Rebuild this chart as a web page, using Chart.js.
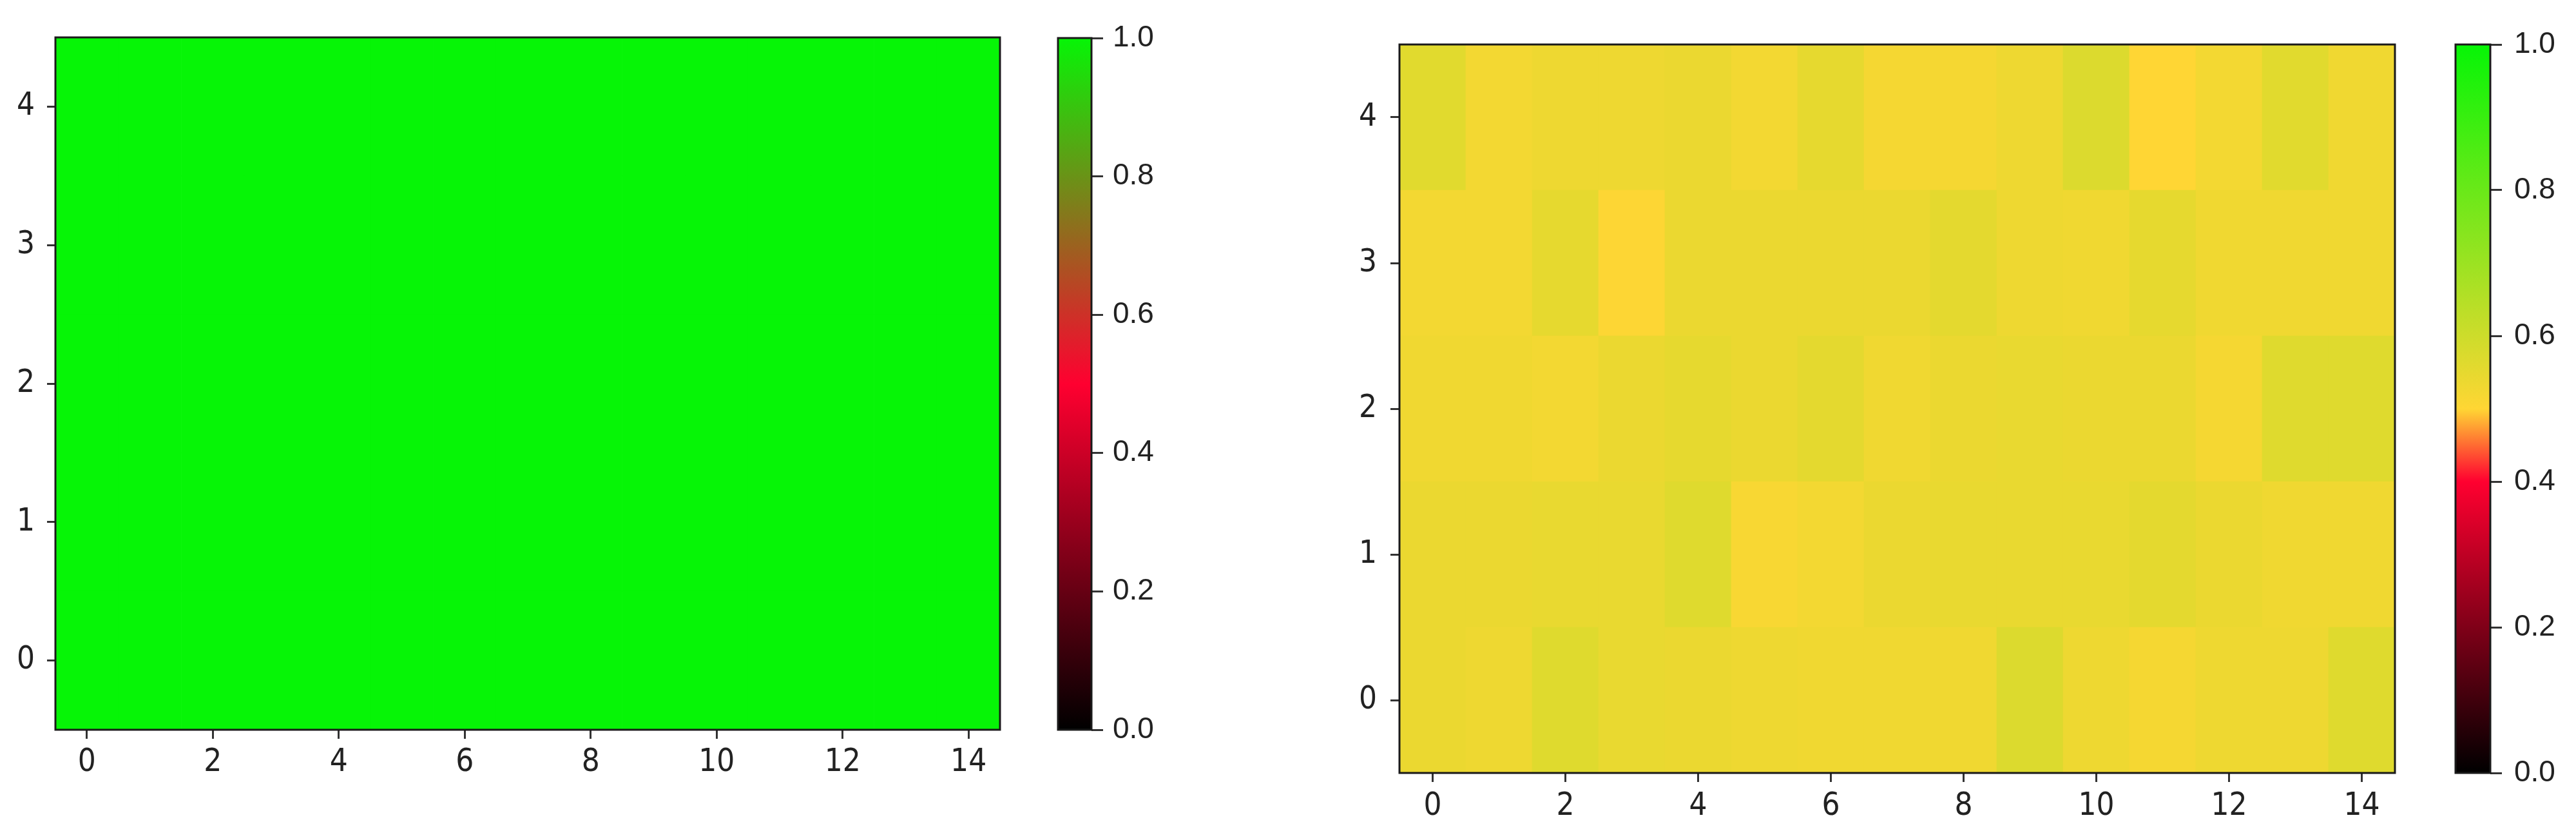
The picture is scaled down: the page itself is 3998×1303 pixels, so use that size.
<!DOCTYPE html>
<html>
<head>
<meta charset="utf-8">
<script src="https://cdn.jsdelivr.net/npm/chart.js@4"></script>
<style>
  body { margin: 0; background: #fff; }
  #page { position: relative; width: 3998px; height: 1303px; overflow: hidden; }
  .box { position: absolute; top: 0; height: 1303px; }
</style>
</head>
<body>
<div id="page">
  <div class="box" style="left:0;width:1600px"><canvas id="heatLeft"></canvas></div>
  <div class="box" style="left:1600px;width:300px"><canvas id="barLeft"></canvas></div>
  <div class="box" style="left:2000px;width:1790px"><canvas id="heatRight"></canvas></div>
  <div class="box" style="left:3790px;width:208px"><canvas id="barRight"></canvas></div>
</div>
<script>
// categories and ticks
const xLabels = ["0","1","2","3","4","5","6","7","8","9","10","11","12","13","14"];
const xTickIdx = [0, 2, 4, 6, 8, 10, 12, 14];
const yTicks = [0, 1, 2, 3, 4];
const cbTicks = [0, 0.2, 0.4, 0.6, 0.8, 1.0];

// left heatmap: every cell at 1.0
const leftRow0 = [1,1,1,1,1,1,1,1,1,1,1,1,1,1,1];
const leftRow1 = [1,1,1,1,1,1,1,1,1,1,1,1,1,1,1];
const leftRow2 = [1,1,1,1,1,1,1,1,1,1,1,1,1,1,1];
const leftRow3 = [1,1,1,1,1,1,1,1,1,1,1,1,1,1,1];
const leftRow4 = [1,1,1,1,1,1,1,1,1,1,1,1,1,1,1];

// right heatmap (row 0 = bottom)
const rightRow0 = [0.54, 0.535, 0.565, 0.545, 0.54, 0.535, 0.53, 0.53, 0.53, 0.57, 0.535, 0.52, 0.535, 0.535, 0.565];
const rightRow1 = [0.54, 0.54, 0.545, 0.545, 0.565, 0.515, 0.525, 0.54, 0.545, 0.545, 0.545, 0.555, 0.54, 0.53, 0.53];
const rightRow2 = [0.53, 0.53, 0.525, 0.54, 0.55, 0.54, 0.555, 0.53, 0.54, 0.545, 0.54, 0.54, 0.52, 0.565, 0.565];
const rightRow3 = [0.525, 0.525, 0.55, 0.505, 0.54, 0.54, 0.54, 0.54, 0.555, 0.535, 0.53, 0.55, 0.53, 0.53, 0.53];
const rightRow4 = [0.56, 0.525, 0.535, 0.535, 0.54, 0.525, 0.55, 0.52, 0.52, 0.535, 0.57, 0.50, 0.525, 0.56, 0.53];

// colormaps: [position, [r,g,b]]
const cmapLeft = [[0, [0,0,0]], [0.5, [255,0,48]], [1, [6,245,6]]];
const cmapRight = [[0, [0,0,0]], [0.4, [255,0,48]], [0.5, [255,214,52]], [1, [6,245,6]]];

function cmapColor(stops, v) {
  for (let i = 1; i < stops.length; i++) {
    if (v <= stops[i][0]) {
      const [p0, c0] = stops[i - 1];
      const [p1, c1] = stops[i];
      const t = (v - p0) / (p1 - p0);
      const c = c0.map((a, k) => Math.round(a + (c1[k] - a) * t));
      return `rgb(${c[0]},${c[1]},${c[2]})`;
    }
  }
  const c = stops[stops.length - 1][1];
  return `rgb(${c[0]},${c[1]},${c[2]})`;
}

const frame = {
  id: "frame",
  afterDraw(chart) {
    const { ctx, chartArea: a } = chart;
    ctx.save();
    ctx.strokeStyle = "#1a1a1a";
    ctx.lineWidth = 3;
    ctx.strokeRect(a.left, a.top, a.width, a.height);
    ctx.restore();
  }
};

const tickFont = { family: "'Liberation Sans Narrow', 'DejaVu Sans Condensed', 'DejaVu Sans'", size: 49 };
const cbFont = { family: "'Liberation Sans', 'DejaVu Sans'", size: 46 };

function makeHeatmap(id, rows, stops, g) {
  const datasets = rows.map((vals, r) => ({
    data: vals.map(() => [r - 0.5, r + 0.5]),
    backgroundColor: vals.map(v => cmapColor(stops, v)),
    borderWidth: 0,
    grouped: false,
    barPercentage: 1,
    categoryPercentage: 1
  }));
  new Chart(document.getElementById(id), {
    type: "bar",
    data: { labels: xLabels, datasets },
    plugins: [frame],
    options: {
      responsive: true,
      maintainAspectRatio: false,
      animation: false,
      layout: { padding: g.pad },
      plugins: { legend: { display: false }, tooltip: { enabled: false } },
      scales: {
        x: {
          grid: { display: true, drawOnChartArea: false, offset: false, tickLength: 14, tickWidth: 3, tickColor: "#333" },
          border: { display: false },
          ticks: {
            autoSkip: false, maxRotation: 0, padding: g.xPad, color: "#222", font: tickFont,
            callback: (v, i) => xTickIdx.includes(i) ? xLabels[i] : null
          },
          afterFit: s => { s.height = 100; }
        },
        y: {
          min: -0.5, max: 4.5,
          grid: { display: true, drawOnChartArea: false, tickLength: g.yTick, tickWidth: 3, tickColor: "#333" },
          border: { display: false },
          ticks: { padding: g.yPad, color: "#222", font: tickFont },
          afterBuildTicks: s => { s.ticks = yTicks.map(v => ({ value: v })); },
          afterFit: s => { s.width = g.yWidth; }
        }
      }
    }
  });
}

function makeColorbar(id, stops, g) {
  new Chart(document.getElementById(id), {
    type: "bar",
    data: {
      labels: [""],
      datasets: [{
        data: [[0, 1]],
        borderWidth: 0,
        barPercentage: 1,
        categoryPercentage: 1,
        backgroundColor: ctx => {
          const chart = ctx.chart;
          const a = chart.chartArea;
          if (!a) return "#000";
          const grad = chart.ctx.createLinearGradient(0, a.bottom, 0, a.top);
          stops.forEach(([p, c]) => grad.addColorStop(p, `rgb(${c[0]},${c[1]},${c[2]})`));
          return grad;
        }
      }]
    },
    plugins: [frame],
    options: {
      responsive: true,
      maintainAspectRatio: false,
      animation: false,
      layout: { padding: g.pad },
      plugins: { legend: { display: false }, tooltip: { enabled: false } },
      scales: {
        x: { display: false },
        y: {
          position: "right",
          min: 0, max: 1,
          grid: { display: true, drawOnChartArea: false, tickLength: 18, tickWidth: 3, tickColor: "#333" },
          border: { display: false },
          ticks: { padding: g.tPad, color: "#222", font: cbFont, callback: v => Number(v).toFixed(1) },
          afterBuildTicks: s => { s.ticks = cbTicks.map(v => ({ value: v })); },
          afterFit: s => { s.width = g.yWidth; }
        }
      }
    }
  });
}

makeHeatmap("heatLeft", [leftRow0, leftRow1, leftRow2, leftRow3, leftRow4], cmapLeft,
  { pad: { left: 6, top: 58, right: 48, bottom: 71 }, yWidth: 80, yTick: 13, yPad: 19, xPad: 8 });
makeColorbar("barLeft", cmapLeft,
  { pad: { left: 42, top: 59, right: 56, bottom: 171 }, yWidth: 150, tPad: 15 });
makeHeatmap("heatRight", [rightRow0, rightRow1, rightRow2, rightRow3, rightRow4], cmapRight,
  { pad: { left: 72, top: 69, right: 73, bottom: 4 }, yWidth: 100, yTick: 14, yPad: 21, xPad: 9 });
makeColorbar("barRight", cmapRight,
  { pad: { left: 21, top: 69, right: 23, bottom: 104 }, yWidth: 110, tPad: 19 });
</script>
</body>
</html>
